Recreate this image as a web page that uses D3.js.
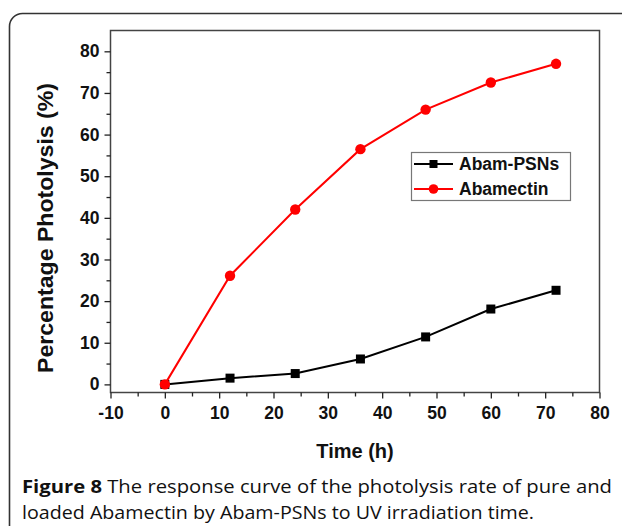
<!DOCTYPE html>
<html><head><meta charset="utf-8">
<script src="https://cdn.jsdelivr.net/npm/d3@7"></script>
<style>body{margin:0;background:#fff}svg{display:block}</style>
</head><body>
<svg id="c" width="622" height="526"></svg>
<script>
const times = [0, 12, 24, 36, 48, 60, 72];
const abamPSNs = [0, 1.5, 2.6, 6.1, 11.4, 18.1, 22.6];
const abamectin = [0, 26.1, 42, 56.5, 66, 72.5, 77];
const xTicks = [-10, 0, 10, 20, 30, 40, 50, 60, 70, 80];
const yTicks = [0, 10, 20, 30, 40, 50, 60, 70, 80];
const seriesNames = ["Abam-PSNs", "Abamectin"];
const seriesColors = ["#000000", "#ff0000"];
const captionBold = "Figure 8";
const captionLine1 = " The response curve of the photolysis rate of pure and";
const captionLine2 = "loaded Abamectin by Abam-PSNs to UV irradiation time.";

const svg = d3.select("#c");
const L = 110.5, R = 599.5, T = 30.5, B = 392.5;
const x = d3.scaleLinear().domain([-10, 80]).range([L, R]);
const y = d3.scaleLinear().domain([-1.95, 85]).range([B, T]);

// outer rounded frame
svg.append("rect").attr("x", 9.5).attr("y", 13.5).attr("width", 640).attr("height", 560)
  .attr("rx", 13).attr("fill", "none").attr("stroke", "#333").attr("stroke-width", 1.6);

// plot frame
svg.append("rect").attr("x", L).attr("y", T).attr("width", R - L).attr("height", B - T)
  .attr("fill", "none").attr("stroke", "#444").attr("stroke-width", 1.5);

const font = "'Liberation Sans', Arial, sans-serif";

// axes
const xAxis = d3.axisBottom(x).tickValues(xTicks).tickSize(6).tickPadding(4).tickFormat(d => String(d));
const gx = svg.append("g").attr("transform", `translate(0,${B})`).call(xAxis);
const xMinor = d3.axisBottom(x).tickValues(d3.range(-5, 80, 10)).tickSize(4).tickFormat("");
svg.append("g").attr("transform", `translate(0,${B})`).call(xMinor).call(g => g.select(".domain").remove());

const yAxis = d3.axisLeft(y).tickValues(yTicks).tickSize(6).tickPadding(5).tickFormat(d => String(d));
const gy = svg.append("g").attr("transform", `translate(${L},0)`).call(yAxis);
const yMinor = d3.axisLeft(y).tickValues(d3.range(5, 85, 10)).tickSize(4).tickFormat("");
svg.append("g").attr("transform", `translate(${L},0)`).call(yMinor).call(g => g.select(".domain").remove());

svg.selectAll(".domain").remove();
svg.selectAll(".tick line").attr("stroke", "#222").attr("stroke-width", 1.3);
svg.selectAll(".tick text").attr("font-family", font).attr("font-weight", "bold")
  .attr("font-size", 17.5).attr("fill", "#111");
gx.selectAll(".tick text").attr("dy", "0.95em");

// lines
const lineGen = d3.line().x(d => x(d[0])).y(d => y(d[1]));
const data = [times.map((t, i) => [t, abamPSNs[i]]), times.map((t, i) => [t, abamectin[i]])];

// black series
svg.append("path").datum(data[0]).attr("d", lineGen).attr("fill", "none")
  .attr("stroke", seriesColors[0]).attr("stroke-width", 2);
svg.append("g").selectAll("rect").data(data[0]).join("rect")
  .attr("x", d => x(d[0]) - 4.5).attr("y", d => y(d[1]) - 4.5).attr("width", 9).attr("height", 9)
  .attr("fill", seriesColors[0]);

// red series
svg.append("path").datum(data[1]).attr("d", lineGen).attr("fill", "none")
  .attr("stroke", seriesColors[1]).attr("stroke-width", 2);
svg.append("g").selectAll("circle").data(data[1]).join("circle")
  .attr("cx", d => x(d[0])).attr("cy", d => y(d[1])).attr("r", 5.2)
  .attr("fill", seriesColors[1]);

// legend
const lg = svg.append("g");
lg.append("rect").attr("x", 411.5).attr("y", 152.5).attr("width", 159).attr("height", 48)
  .attr("fill", "#fff").attr("stroke", "#777").attr("stroke-width", 1.2);
seriesNames.forEach((n, i) => {
  const cy = 164 + i * 25;
  lg.append("line").attr("x1", 414).attr("x2", 453).attr("y1", cy).attr("y2", cy)
    .attr("stroke", seriesColors[i]).attr("stroke-width", 2);
  if (i === 0) lg.append("rect").attr("x", 429.5).attr("y", cy - 4).attr("width", 8).attr("height", 8).attr("fill", seriesColors[i]);
  else lg.append("circle").attr("cx", 433.5).attr("cy", cy).attr("r", 4.8).attr("fill", seriesColors[i]);
  lg.append("text").attr("x", 459).attr("y", cy + 6).text(n)
    .attr("font-family", font).attr("font-weight", "bold").attr("font-size", 17.5).attr("fill", "#111");
});

// axis titles
svg.append("text").attr("x", (L + R) / 2).attr("y", 458).attr("text-anchor", "middle")
  .attr("font-family", font).attr("font-weight", "bold").attr("font-size", 20).attr("fill", "#111")
  .text("Time (h)");
svg.append("text").attr("transform", "translate(53,228) rotate(-90)").attr("text-anchor", "middle")
  .attr("font-family", font).attr("font-weight", "bold").attr("font-size", 22).attr("fill", "#111")
  .attr("textLength", 290).attr("lengthAdjust", "spacingAndGlyphs")
  .text("Percentage Photolysis (%)");

// caption
const capFont = "'Open Sans', 'Noto Sans', sans-serif";
const c1 = svg.append("text").attr("x", 22).attr("y", 493).attr("font-family", capFont)
  .attr("font-size", 17.5).attr("fill", "#111").attr("textLength", 590).attr("lengthAdjust", "spacingAndGlyphs");
c1.append("tspan").attr("font-weight", "bold").text(captionBold);
c1.append("tspan").text(captionLine1);
svg.append("text").attr("x", 22).attr("y", 519).attr("font-family", capFont)
  .attr("font-size", 17.5).attr("fill", "#111").attr("textLength", 512).attr("lengthAdjust", "spacingAndGlyphs")
  .text(captionLine2);
</script>
</body></html>
